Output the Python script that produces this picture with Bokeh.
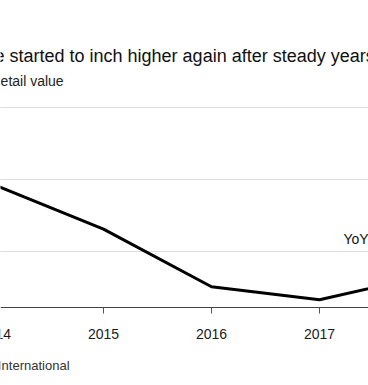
from bokeh.plotting import figure
from bokeh.models import FixedTicker, Grid, Range1d, ColumnDataSource, Span
from bokeh.core.properties import value
from bokeh.embed import file_html
from bokeh.resources import INLINE

years = [2014, 2015, 2016, 2017, 2018]
yoy_growth = [1.92, 1.31, 0.51, 0.33, 0.67]
grid_values = [1, 2, 3]
x_ticks = [2014, 2015, 2016, 2017]
x_tick_labels = ["2014", "2015", "2016", "2017"]

title_text = "e started to inch higher again after steady years"
subtitle_text = "Retail value"
source_text = "International"
annot_text = "YoY"

FONT = "Liberation Sans"

# pixel -> data helpers (frame covers the whole canvas)
X0, PX_PER_YEAR = 2015, 108.0
Y_REF_PX, PX_PER_UNIT = 251, 72.0
def dx(px):
    return X0 + (px - 103) / PX_PER_YEAR
def dy(py):
    return 1 + (Y_REF_PX - py) / PX_PER_UNIT

W, H = 368, 385
p = figure(width=W, height=H, output_backend="svg", toolbar_location=None,
           x_range=Range1d(dx(0), dx(W)), y_range=Range1d(dy(H), dy(0)),
           x_axis_location=None, y_axis_location=None,
           min_border=0)
p.outline_line_color = None
p.xgrid.visible = False
p.ygrid.visible = False
p.background_fill_color = "white"
p.border_fill_color = "white"

p.add_layout(Grid(dimension=1, ticker=FixedTicker(ticks=grid_values),
                  grid_line_color="#dddddd", grid_line_width=1))

# baseline axis
axis_y = dy(307)
p.add_layout(Span(location=axis_y, dimension="width", line_color="#444444", line_width=1))
p.segment(x0=x_ticks, y0=[axis_y] * len(x_ticks), x1=x_ticks, y1=[dy(313)] * len(x_ticks),
          line_color="#555555", line_width=1)
p.text(x=x_ticks, y=[dy(333)] * len(x_ticks), text=x_tick_labels,
       text_font=value(FONT), text_font_size="14px", text_color="#1a1a1a",
       text_align="center", text_baseline="alphabetic")

src = ColumnDataSource(dict(x=years, y=yoy_growth))
p.line("x", "y", source=src, line_color="#000000", line_width=3, line_join="round")

def add_text(x, y, txt, size, color):
    p.text(x=[x], y=[y], text=[txt], text_font=value(FONT), text_font_size=size,
           text_color=color, text_baseline="alphabetic", text_align="left")

add_text(dx(-6), dy(55), title_text, "18px", "#111111")
add_text(dx(-10), dy(80), subtitle_text, "14px", "#222222")
add_text(dx(-2.5), dy(365), source_text, "13px", "#333333")
add_text(dx(343), dy(238), annot_text, "14px", "#111111")

open("out.html", "w").write(file_html(p, INLINE))
